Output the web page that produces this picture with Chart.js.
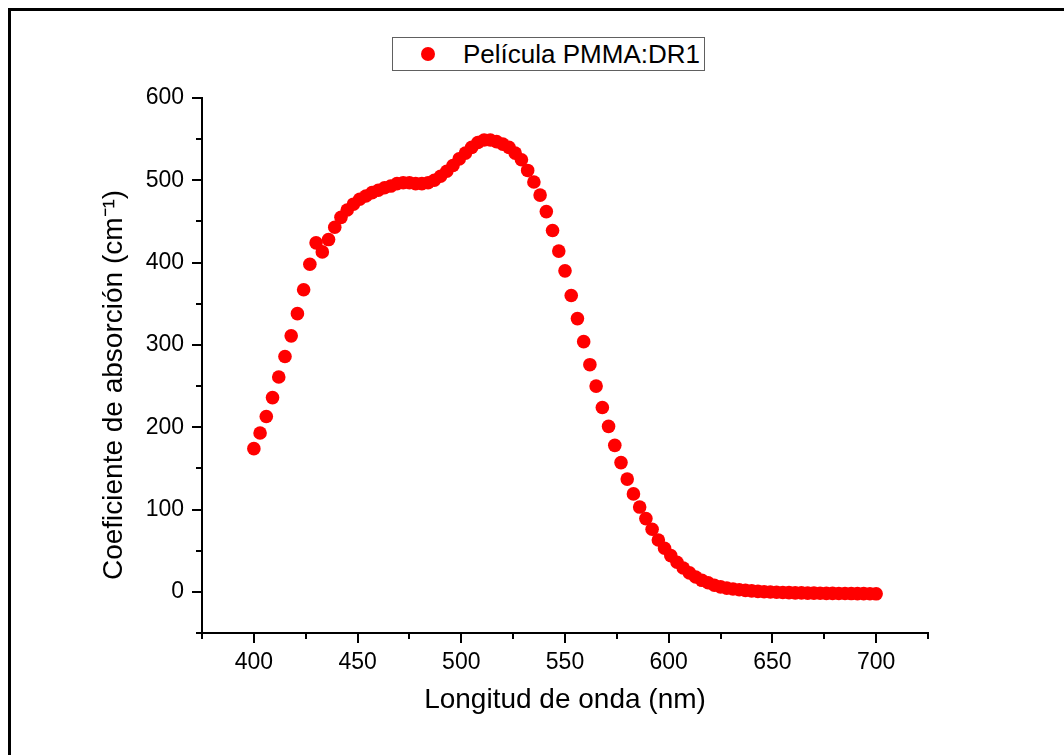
<!DOCTYPE html>
<html>
<head>
<meta charset="utf-8">
<script src="https://cdn.jsdelivr.net/npm/chart.js@4.4.1/dist/chart.umd.min.js"></script>
<style>
  html, body { margin: 0; padding: 0; background: #fff; overflow: hidden; }
  #marco {
    position: absolute; left: 8px; top: 8px; width: 2000px; height: 2000px;
    border-left: 3px solid #000; border-top: 3px solid #000;
  }
  #wrap { position: absolute; left: 0; top: 0; width: 1064px; height: 755px; }
  #leyenda {
    position: absolute; left: 392px; top: 37px; width: 311px; height: 32px;
    border: 1px solid #606060; background: #fff;
    font-family: "Liberation Sans", Arial, sans-serif; font-size: 26px; color: #000;
  }
  #leyenda .punto {
    position: absolute; left: 28px; top: 9px; width: 14px; height: 14px;
    border-radius: 50%; background: #ff0000;
  }
  #leyenda .txt { position: absolute; left: 70px; top: 1px; line-height: 30px; white-space: nowrap; }
</style>
</head>
<body>
<div id="marco"></div>
<div id="wrap"><canvas id="chartAbs"></canvas></div>
<div id="leyenda"><span class="punto"></span><span class="txt">Película PMMA:DR1</span></div>
<script>
// Longitud de onda (nm)
const longitudes = [400,403,406,409,412,415,418,421,424,427,
  430,433,436,439,442,445,448,451,454,457,
  460,463,466,469,472,475,478,481,484,487,
  490,493,496,499,502,505,508,511,514,517,
  520,523,526,529,532,535,538,541,544,547,
  550,553,556,559,562,565,568,571,574,577,
  580,583,586,589,592,595,598,601,604,607,
  610,613,616,619,622,625,628,631,634,637,
  640,643,646,649,652,655,658,661,664,667,
  670,673,676,679,682,685,688,691,694,697,
  700];

// Coeficiente de absorcion (cm-1)
const coeficiente = [174,193,213,236,261,286,311,338,367,398,
  424,413,428,443,455,464,471,477,481,485,
  488,491,493,496,497,497,496,496,497,500,
  505,511,518,526,533,540,546,549,549,547,
  544,540,533,525,512,498,482,462,439,414,
  390,360,332,304,276,250,224,201,178,157,
  137,119,103,89,76,63,53,44,36,29,
  23,18,14,11,8,6,4.5,3.5,2.5,1.8,
  1.2,0.6,0.2,-0.2,-0.5,-0.8,-1,-1.2,-1.3,-1.5,
  -1.6,-1.7,-1.8,-1.9,-2,-2,-2.1,-2.2,-2.2,-2.3,
  -2.4];

const ticksX = [400,450,500,550,600,650,700];
const menoresX = [375,425,475,525,575,625,675,725];
const ticksY = [0,100,200,300,400,500,600];
const menoresY = [-50,50,150,250,350,450,550];

const fuente = '"Liberation Sans", Arial, sans-serif';

// ticks menores (mas cortos que los mayores)
const ticksMenores = {
  id: "ticksMenores",
  afterDraw(chart) {
    const ctx = chart.ctx;
    const sx = chart.scales.x, sy = chart.scales.y;
    const area = chart.chartArea;
    ctx.save();
    ctx.strokeStyle = "#000";
    ctx.lineWidth = 2;
    ctx.beginPath();
    menoresX.forEach((v) => {
      const px = Math.round(sx.getPixelForValue(v));
      ctx.moveTo(px, area.bottom);
      ctx.lineTo(px, area.bottom + 6);
    });
    menoresY.forEach((v) => {
      const py = Math.round(sy.getPixelForValue(v));
      ctx.moveTo(area.left, py);
      ctx.lineTo(area.left - 6, py);
    });
    ctx.stroke();
    ctx.restore();
  },
};

new Chart(document.getElementById("chartAbs"), {
  type: "scatter",
  data: {
    datasets: [
      {
        label: "Película PMMA:DR1",
        data: longitudes.map((x, i) => ({ x: x, y: coeficiente[i] })),
        backgroundColor: "#ff0000",
        borderWidth: 0,
        pointRadius: 6.8,
        pointHoverRadius: 6.8,
      },
    ],
  },
  options: {
    responsive: true,
    maintainAspectRatio: false,
    animation: false,
    layout: { padding: { left: 80, right: 136, top: 98, bottom: 38 } },
    plugins: { legend: { display: false }, tooltip: { enabled: false } },
    scales: {
      x: {
        type: "linear",
        min: 375,
        max: 725,
        afterBuildTicks: (s) => { s.ticks = ticksX.map((v) => ({ value: v })); },
        afterFit: (s) => { s.height = 84; },
        border: { display: true, color: "#000", width: 2 },
        grid: { drawOnChartArea: false, drawTicks: true, tickLength: 10, color: "#000", lineWidth: 2 },
        ticks: { color: "#000", padding: 6, maxRotation: 0, font: { family: fuente, size: 23 } },
        title: {
          display: true,
          text: "Longitud de onda (nm)",
          color: "#000",
          padding: { top: 0, bottom: 0 },
          font: { family: fuente, size: 28 },
        },
      },
      y: {
        type: "linear",
        min: -50,
        max: 600,
        afterBuildTicks: (s) => { s.ticks = ticksY.map((v) => ({ value: v })); },
        afterFit: (s) => { s.width = 122; },
        border: { display: true, color: "#000", width: 2 },
        grid: { drawOnChartArea: false, drawTicks: true, tickLength: 10, color: "#000", lineWidth: 2 },
        ticks: { color: "#000", padding: 8, font: { family: fuente, size: 23 } },
        title: {
          display: true,
          text: "Coeficiente de absorción (cm⁻¹)     ",
          color: "#000",
          padding: { top: 17, bottom: 0 },
          font: { family: fuente, size: 28 },
        },
      },
    },
  },
  plugins: [ticksMenores],
});
</script>
</body>
</html>
